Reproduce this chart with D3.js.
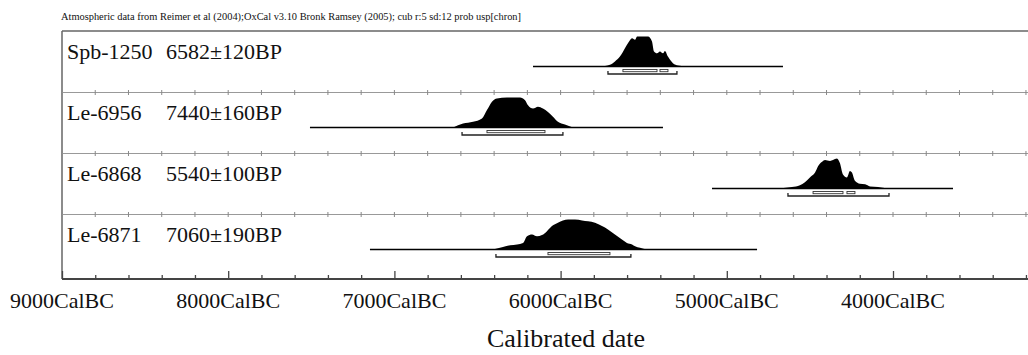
<!DOCTYPE html>
<html><head><meta charset="utf-8">
<script src="https://cdn.jsdelivr.net/npm/d3@7"></script>
<style>body{margin:0;background:#fff}svg{display:block}text{font-family:"Liberation Serif","Times New Roman",serif;fill:#111}</style>
</head><body><svg id="c" width="1028" height="355"></svg>
<script>
// ---- data ----
const header = "Atmospheric data from Reimer et al (2004);OxCal v3.10 Bronk Ramsey (2005); cub r:5 sd:12 prob usp[chron]";
const samples = ["Spb-1250", "Le-6956", "Le-6868", "Le-6871"];
const ages = ["6582±120BP", "7440±160BP", "5540±100BP", "7060±190BP"];
const tickLabels = [9000, 8000, 7000, 6000, 5000, 4000];
const axisTitle = "Calibrated date";

// probability distributions (years cal BC, relative probability)
const years1 = [5763,5703,5673,5643,5613,5594,5570,5552,5540,5510,5474,5450,5438,5420,5402,5384,5372,5354,5324,5293,5251];
const prob1  = [0,0.06,0.17,0.33,0.61,0.78,0.94,0.89,1.0,1.0,1.0,0.83,0.5,0.44,0.5,0.44,0.52,0.33,0.11,0.03,0];
const years2 = [6647,6587,6527,6473,6443,6413,6383,6323,6244,6214,6196,6166,6136,6106,6076,6046,6016,5974,5926];
const prob2  = [0,0.13,0.19,0.3,0.58,0.86,0.97,1.0,1.0,0.91,0.74,0.63,0.69,0.63,0.52,0.36,0.19,0.1,0];
const years3 = [4710,4608,4560,4530,4500,4469,4451,4427,4409,4379,4361,4337,4319,4301,4277,4259,4247,4229,4199,4168,4138,4090,4030];
const prob3  = [0,0.05,0.11,0.21,0.37,0.53,0.74,0.89,0.95,0.92,0.95,1.0,0.84,0.47,0.37,0.58,0.53,0.26,0.16,0.14,0.07,0.05,0];
const years4 = [6407,6347,6304,6262,6226,6202,6172,6142,6112,6082,6052,6016,5986,5955,5913,5871,5835,5793,5751,5715,5673,5631,5601,5570,5552,5522,5480];
const prob4  = [0,0.08,0.14,0.17,0.22,0.44,0.5,0.44,0.48,0.61,0.78,0.89,0.97,1.0,1.0,0.97,0.94,0.89,0.78,0.67,0.5,0.33,0.22,0.17,0.11,0.06,0];
const yearsAll = [years1, years2, years3, years4];
const probAll  = [prob1, prob2, prob3, prob4];

// extent of the calibration line (cal BC)
const lineFrom = [6166, 7508, 5089, 7147];
const lineTo   = [4662, 5384, 3639, 4818];
// 68.2% ranges (segments) and 95.4% ranges (cal BC)
const sigma1 = [[[5625,5420],[5402,5354]], [[6443,6094]], [[4481,4301],[4277,4229]], [[6076,5703]]];
const sigma2 = [[5715,5300], [6593,5986], [4632,4024], [6389,5577]];

// ---- drawing ----
const svg = d3.select("#c");
const x = d3.scaleLinear().domain([9000, 4000]).range([62, 893]);
const row = d3.scaleBand().domain(samples).range([30.5, 274.5]).padding(0);
const axisY = 279;
const peakH = 30;
const baseOff = 36;

svg.append("text").attr("x", 61).attr("y", 20).attr("font-size", 10.4).text(header);

// frame
svg.append("line").attr("x1", 62).attr("x2", 1028).attr("y1", 31).attr("y2", 31).attr("stroke", "#666").attr("stroke-width", 1.5);
svg.append("line").attr("x1", 62).attr("x2", 62).attr("y1", 31).attr("y2", axisY).attr("stroke", "#666").attr("stroke-width", 1.5);

const minor = d3.range(9000, 3100, -200);

// separators
samples.slice(1).forEach(s => {
  const yy = Math.round(row(s)) + 0.5;
  const g = svg.append("g");
  g.append("line").attr("x1", 62).attr("x2", 1028).attr("y1", yy).attr("y2", yy).attr("stroke", "#999").attr("stroke-width", 1.1);
  g.selectAll("line.t").data(minor).join("line").attr("class", "t")
    .attr("x1", d => x(d)).attr("x2", d => x(d)).attr("y1", yy - 2.5).attr("y2", yy + 2.5)
    .attr("stroke", "#888").attr("stroke-width", 1);
});

// bottom axis
const axis = d3.axisTop(x).tickValues(minor).tickSize(4).tickFormat("");
const ag = svg.append("g").attr("transform", `translate(0,${axisY})`).call(axis);
ag.select(".domain").remove();
ag.selectAll(".tick line").attr("stroke", "#444").attr("stroke-width", 1.3)
  .attr("y2", d => d % 1000 === 0 ? -8 : -4);
svg.append("line").attr("x1", 62).attr("x2", 1028).attr("y1", axisY).attr("y2", axisY).attr("stroke", "#444").attr("stroke-width", 2);

svg.selectAll("text.tl").data(tickLabels).join("text").attr("class", "tl")
  .attr("x", d => x(d)).attr("y", 308).attr("text-anchor", "middle").attr("font-size", 22)
  .text(d => d + "CalBC");
svg.append("text").attr("x", 566).attr("y", 347).attr("text-anchor", "middle").attr("font-size", 26).text(axisTitle);

// rows
samples.forEach((s, i) => {
  const top = row(s);
  const base = top + baseOff;
  svg.append("text").attr("x", 67).attr("y", top + 28).attr("font-size", 22).text(s);
  svg.append("text").attr("x", 166).attr("y", top + 28).attr("font-size", 22).text(ages[i]);
  svg.append("line").attr("x1", x(lineFrom[i])).attr("x2", x(lineTo[i])).attr("y1", base).attr("y2", base)
    .attr("stroke", "#000").attr("stroke-width", 1.6);
  const pts = yearsAll[i].map((y, k) => [y, probAll[i][k]]);
  const area = d3.area().x(d => x(d[0])).y0(base).y1(d => base - d[1] * peakH).curve(d3.curveMonotoneX);
  svg.append("path").datum(pts).attr("d", area).attr("fill", "#000");
  // 68% ranges: hollow bars
  sigma1[i].forEach(r => {
    svg.append("rect").attr("x", x(r[0])).attr("y", base + 3).attr("width", x(r[1]) - x(r[0])).attr("height", 2.2)
      .attr("fill", "#fff").attr("stroke", "#333").attr("stroke-width", 0.9);
  });
  // 95% range: line with upturned ends
  const r2 = sigma2[i];
  const yb = base + 7.5;
  svg.append("path").attr("d", `M${x(r2[0])},${yb - 3}V${yb}H${x(r2[1])}V${yb - 3}`)
    .attr("fill", "none").attr("stroke", "#222").attr("stroke-width", 1.3);
});
</script></body></html>
